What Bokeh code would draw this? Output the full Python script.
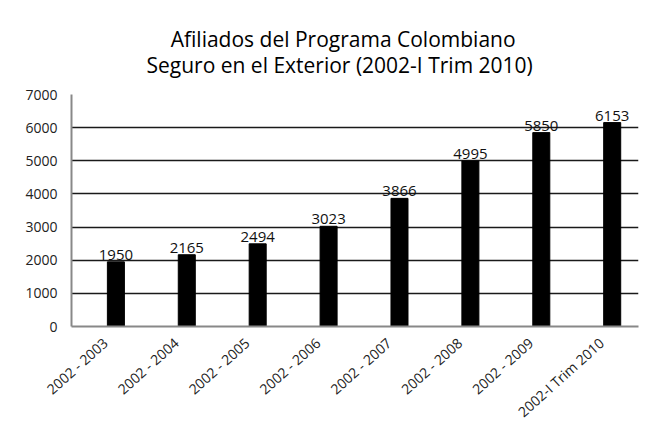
import math
from bokeh.plotting import figure
from bokeh.layouts import column
from bokeh.models import Range1d, FixedTicker, ColumnDataSource
from bokeh.transform import dodge
from bokeh.core.properties import value
from bokeh.embed import file_html
from bokeh.resources import INLINE

categories = ["2002 - 2003", "2002 - 2004", "2002 - 2005", "2002 - 2006",
              "2002 - 2007", "2002 - 2008", "2002 - 2009", "2002-I Trim 2010"]
afiliados = [1950, 2165, 2494, 3023, 3866, 4995, 5850, 6153]
y_ticks = [0, 1000, 2000, 3000, 4000, 5000, 6000, 7000]
title_lines = ["Afiliados del Programa Colombiano",
               "Seguro en el Exterior (2002-I Trim 2010)"]

FONT = "Open Sans"
W = 645
TH = 84            # height of the title strip
H = 346            # height of the chart itself
ML, MR, MT, MB = 71, 7, 10, 104
BAR_SHIFT = 0.15

# ---- title strip (pixel-like coordinates, y pointing down) ----
t = figure(width=W, height=TH, output_backend="svg", toolbar_location=None,
           x_range=Range1d(0, W), y_range=Range1d(TH, 0),
           x_axis_location=None, y_axis_location=None, title=None,
           min_border=0, min_border_left=0, min_border_right=0,
           min_border_top=0, min_border_bottom=0)
t.grid.visible = False
t.outline_line_color = None
t.background_fill_color = "white"
t.border_fill_color = "white"
t.text(x=[309, 305], y=[38, 64], text=title_lines, text_align="center",
       text_baseline="alphabetic", text_font=value(FONT),
       text_font_size="21px", text_color="black")

# ---- chart ----
idx = list(range(len(categories)))
src = ColumnDataSource(dict(x=idx, y=afiliados, lab=[str(v) for v in afiliados]))

p = figure(width=W, height=H, output_backend="svg", toolbar_location=None,
           x_range=Range1d(-0.476, 7.521), y_range=Range1d(0, 7000),
           min_border_left=ML, min_border_right=MR, min_border_bottom=MB,
           min_border_top=MT, title=None)
p.outline_line_color = None
p.background_fill_color = "white"
p.border_fill_color = "white"

p.vbar(x=dodge("x", BAR_SHIFT, range=p.x_range), top="y", width=0.24, bottom=0,
       source=src, fill_color="black", line_color="black")
p.text(x=dodge("x", BAR_SHIFT, range=p.x_range), y="y", text="lab", source=src,
       text_align="center", text_baseline="bottom", y_offset=-2,
       text_font=value(FONT), text_font_size="15px", text_color="#111")

p.xgrid.grid_line_color = None
p.ygrid.grid_line_color = "#1a1a1a"
p.ygrid.grid_line_width = 1.3
p.ygrid.ticker = FixedTicker(ticks=y_ticks)

p.yaxis.ticker = FixedTicker(ticks=y_ticks)
p.xaxis.ticker = FixedTicker(ticks=idx)
p.xaxis.major_label_overrides = {i: c for i, c in enumerate(categories)}
p.xaxis.major_label_orientation = math.radians(42)

for ax in (p.xaxis[0], p.yaxis[0]):
    ax.axis_line_color = "#888"
    ax.axis_line_width = 2
    ax.major_tick_line_color = None
    ax.minor_tick_line_color = None
    ax.major_tick_out = 0
    ax.major_tick_in = 0
    ax.major_label_text_font = FONT
    ax.major_label_text_font_size = "14px"
    ax.major_label_text_color = "#222"
p.yaxis.major_label_standoff = 14
p.xaxis.major_label_standoff = 14

layout = column(t, p, spacing=0)
open("out.html", "w").write(file_html(layout, INLINE))
